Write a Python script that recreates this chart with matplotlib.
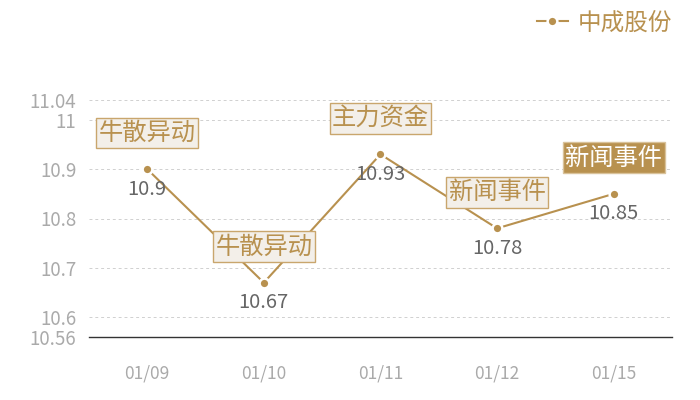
import matplotlib
matplotlib.use("Agg")
import matplotlib.pyplot as plt

plt.rcParams['font.family'] = ['Noto Sans CJK SC', 'DejaVu Sans']

dates = ["01/09", "01/10", "01/11", "01/12", "01/15"]
prices = [10.9, 10.67, 10.93, 10.78, 10.85]
events = ["牛散异动", "牛散异动", "主力资金", "新闻事件", "新闻事件"]
highlight = [False, False, False, False, True]
yticks = [10.56, 10.6, 10.7, 10.8, 10.9, 11, 11.04]
series_name = "中成股份"

gold = "#b8914f"
fig = plt.figure(figsize=(7, 4), dpi=100)
ax = fig.add_axes([0.127, 0.1575, 0.833, 0.5925])

x = list(range(len(dates)))
ax.plot(x, prices, color=gold, lw=1.5, marker='o', ms=7, mfc=gold,
        mec='white', mew=1.8, label=series_name, zorder=3)

for i, (p, ev, hl) in enumerate(zip(prices, events, highlight)):
    ax.annotate("{:g}".format(p), (i, p), xytext=(0, -14.5), textcoords='offset points',
                ha='center', va='center', fontsize=14.5, color='#666666', zorder=5)
    if hl:
        box = dict(boxstyle='square,pad=0.1', fc=gold, ec='#d9c29a', lw=1)
        tc = 'white'
    else:
        box = dict(boxstyle='square,pad=0.1', fc='#f3efe9', ec='#c9a66d', lw=1)
        tc = gold
    ax.annotate(ev, (i, p), xytext=(0, 26), textcoords='offset points',
                ha='center', va='center', fontsize=17.5, color=tc, bbox=box, zorder=6)

ax.set_xlim(-0.5, len(dates) - 0.5)
ax.set_ylim(10.56, 11.04)
ax.set_xticks(x)
ax.set_xticklabels(dates)
ax.set_yticks(yticks)
ax.set_yticklabels(["{:g}".format(v) for v in yticks])
ax.tick_params(axis='both', length=0, labelcolor='#aaaaaa')
ax.tick_params(axis='x', pad=20, labelsize=12.5)
ax.tick_params(axis='y', pad=9, labelsize=13.5)
ax.grid(axis='y', color='#d0d0d0', ls=(0, (3, 3)), lw=0.7)
for s in ['top', 'right', 'left']:
    ax.spines[s].set_visible(False)
ax.spines['bottom'].set_color('#333333')
ax.spines['bottom'].set_linewidth(1)

leg = fig.legend(loc='upper right', bbox_to_anchor=(0.99, 1.025), frameon=False,
                 fontsize=17, handlelength=1.3, handletextpad=0.4)
for t in leg.get_texts():
    t.set_color(gold)

fig.savefig("out.png", dpi=100)
